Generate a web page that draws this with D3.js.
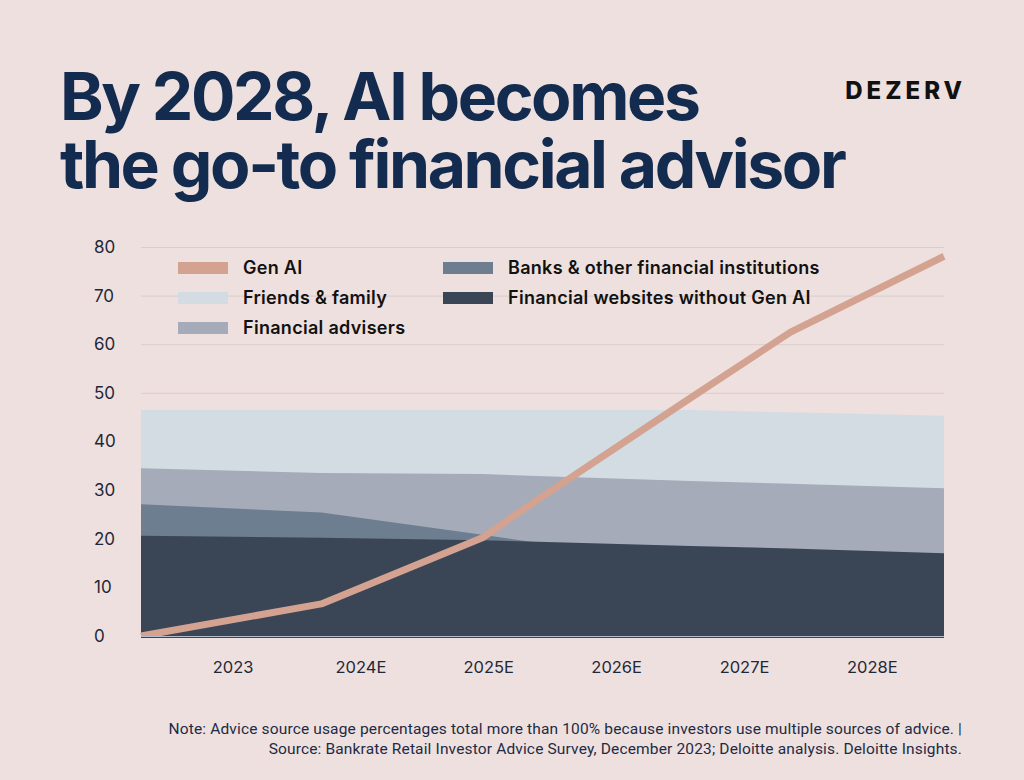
<!DOCTYPE html>
<html>
<head>
<meta charset="utf-8">
<script src="https://cdn.jsdelivr.net/npm/d3@7"></script>
<style>
  body { margin: 0; background: #eee0de; }
  svg { display: block; }
</style>
</head>
<body>
<svg id="chart" width="1024" height="780"></svg>
<script>
// x positions (in years) where the shapes bend
const xPos = [2022.28, 2023.69, 2024.95, 2025.38, 2026.58, 2027.36, 2028.56];
const yearTicks = [2023, 2024, 2025, 2026, 2027, 2028];
const yearLabels = ["2023", "2024E", "2025E", "2026E", "2027E", "2028E"];
const yTicks = [0, 10, 20, 30, 40, 50, 60, 70, 80];

const genAI    = [0, 6.6, 20.2, 28.0, 49.0, 62.5, 78.1];
const friends  = [46.5, 46.5, 46.5, 46.5, 46.5, 46.0, 45.3];
const advisers = [34.5, 33.5, 33.3, 32.9, 31.9, 31.3, 30.4];
const banks    = [27.1, 25.4, 20.8, 19.2, null, null, null];
const websites = [20.6, 20.2, 19.7, 19.4, 18.5, 18.0, 17.0];

const colors = {
  genAI: "#d4a291",
  friends: "#d3dce3",
  advisers: "#a5abb8",
  banks: "#6d7e90",
  websites: "#3a4556"
};

const svg = d3.select("#chart");
const ink = "#1e2838";

// title (one text, two lines) + logo
const title = ["By 2028, AI becomes", "the go-to financial advisor"];
svg.append("text")
  .attr("font-family", "Inter").attr("font-weight", 700).attr("font-size", 66)
  .attr("letter-spacing", -2.4).attr("fill", "#132b4f")
  .selectAll("tspan").data(title).join("tspan")
  .attr("x", 60).attr("y", (d, i) => 120 + i * 68)
  .text(d => d);
svg.append("text").attr("x", 966).attr("y", 99).attr("text-anchor", "end")
  .attr("font-family", "Inter").attr("font-weight", 800).attr("font-size", 24)
  .attr("letter-spacing", 4).attr("fill", "#111")
  .text("DEZERV");

const x = d3.scaleLinear().domain([xPos[0], xPos[xPos.length - 1]]).range([141, 944]);
const y = d3.scaleLinear().domain([0, 80]).range([636, 247]);

// gridlines
svg.append("g").selectAll("line").data(yTicks).join("line")
  .attr("x1", x.range()[0]).attr("x2", x.range()[1])
  .attr("y1", d => y(d) + 0.5).attr("y2", d => y(d) + 0.5)
  .attr("stroke", "#dbcdcd").attr("stroke-width", 1);

// y labels
svg.append("g").selectAll("text").data(yTicks).join("text")
  .attr("x", 94).attr("y", d => y(d)).attr("dy", "0.35em")
  .attr("font-family", "Inter").attr("font-size", 17).attr("fill", ink)
  .text(d => d);

// areas, back to front (overlapping, not stacked)
const layers = [
  { key: "friends", values: friends },
  { key: "advisers", values: advisers },
  { key: "banks", values: banks },
  { key: "websites", values: websites }
];
const area = d3.area()
  .defined(d => d.v != null)
  .x(d => x(d.t)).y0(y(0)).y1(d => y(d.v));

svg.append("g").selectAll("path").data(layers).join("path")
  .attr("fill", d => colors[d.key])
  .attr("d", d => area(xPos.map((t, i) => ({ t, v: d.values[i] }))));

// baseline
svg.append("line").attr("x1", 141).attr("x2", 944).attr("y1", 636.5).attr("y2", 636.5)
  .attr("stroke", "#b3bccb").attr("stroke-width", 1);
svg.append("line").attr("x1", 141).attr("x2", 944).attr("y1", 637.5).attr("y2", 637.5)
  .attr("stroke", "#3a4556").attr("stroke-width", 1);

// Gen AI line, clipped at the baseline
svg.append("clipPath").attr("id", "plotClip").append("rect")
  .attr("x", 130).attr("y", 200).attr("width", 830).attr("height", y(0) - 200);
const line = d3.line().x(d => x(d.t)).y(d => y(d.v));
svg.append("path")
  .attr("clip-path", "url(#plotClip)")
  .attr("fill", "none").attr("stroke", colors.genAI).attr("stroke-width", 7)
  .attr("stroke-linejoin", "round")
  .attr("d", line(xPos.map((t, i) => ({ t, v: genAI[i] }))));

// x labels
svg.append("g").selectAll("text").data(yearTicks).join("text")
  .attr("x", d => x(d)).attr("y", 667).attr("dy", "0.35em").attr("text-anchor", "middle")
  .attr("font-family", "Inter").attr("font-size", 16.5).attr("fill", ink)
  .text((d, i) => yearLabels[i]);

// legend
const legend = [
  { key: "genAI", label: "Gen AI", col: 0, row: 0 },
  { key: "friends", label: "Friends & family", col: 0, row: 1 },
  { key: "advisers", label: "Financial advisers", col: 0, row: 2 },
  { key: "banks", label: "Banks & other financial institutions", col: 1, row: 0 },
  { key: "websites", label: "Financial websites without Gen AI", col: 1, row: 1 }
];
const lg = svg.append("g").selectAll("g").data(legend).join("g")
  .attr("transform", d => `translate(${178 + d.col * 265},${268 + d.row * 30})`);
lg.append("rect").attr("x", 0).attr("y", -6).attr("width", 50).attr("height", 12)
  .attr("fill", d => colors[d.key]);
lg.append("text").attr("x", 65).attr("y", 0).attr("dy", "0.35em")
  .attr("font-family", "Inter").attr("font-weight", 600).attr("font-size", 18)
  .attr("letter-spacing", 0.3).attr("fill", "#111").text(d => d.label);

// note
const note = [
  "Note: Advice source usage percentages total more than 100% because investors use multiple sources of advice. |",
  "Source: Bankrate Retail Investor Advice Survey, December 2023; Deloitte analysis. Deloitte Insights."
];
svg.append("g").selectAll("text").data(note).join("text")
  .attr("x", 962).attr("y", (d, i) => 734 + i * 20).attr("text-anchor", "end")
  .attr("font-family", "Roboto").attr("font-size", 15.5).attr("letter-spacing", 0.15)
  .attr("fill", "#1d2b45")
  .text(d => d);
</script>
</body>
</html>
